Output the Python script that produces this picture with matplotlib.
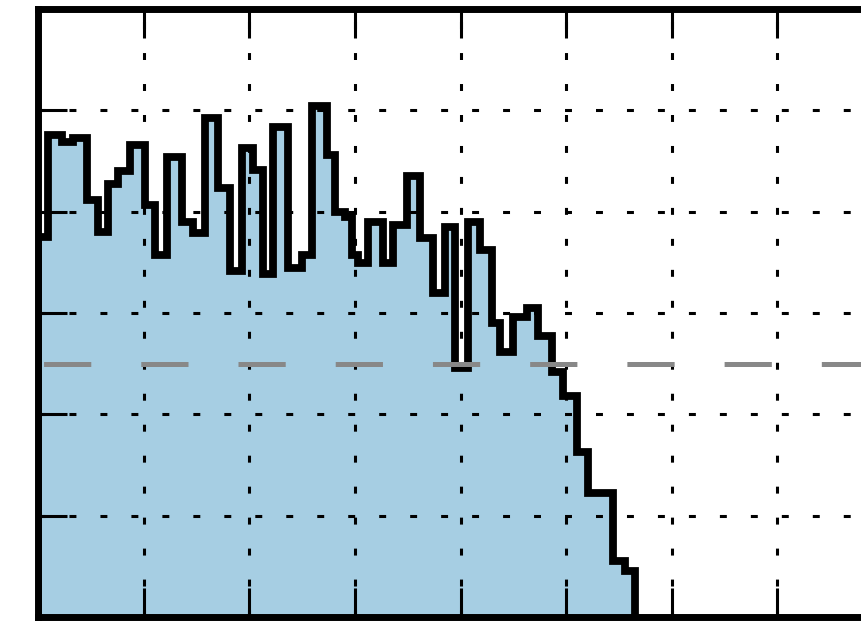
import matplotlib
matplotlib.use("Agg")
import matplotlib.pyplot as plt
import numpy as np

plt.rcParams['lines.scale_dashes'] = False

# step histogram (bin edges and heights, data units)
bin_edges = [0.000, 0.095, 0.222, 0.332, 0.459, 0.568, 0.663, 0.758, 0.869, 1.011,
             1.106, 1.216, 1.359, 1.468, 1.579, 1.705, 1.816, 1.927, 2.037, 2.132,
             2.226, 2.369, 2.495, 2.590, 2.732, 2.811, 2.906, 2.969, 3.032, 3.126,
             3.269, 3.363, 3.490, 3.616, 3.742, 3.853, 3.948, 4.074, 4.185, 4.296,
             4.375, 4.500, 4.627, 4.737, 4.864, 4.974, 5.101, 5.211, 5.448, 5.559,
             5.653]
heights = [3.75, 4.76, 4.69, 4.73, 4.12, 3.80, 4.27, 4.40, 4.66, 4.07,
           3.57, 4.54, 3.90, 3.79, 4.92, 4.23, 3.41, 4.63, 4.41, 3.38,
           4.84, 3.44, 3.57, 5.04, 4.56, 4.00, 3.95, 3.57, 3.49, 3.90,
           3.49, 3.87, 4.35, 3.74, 3.20, 3.85, 2.46, 3.90, 3.62, 2.90,
           2.62, 2.96, 3.05, 2.77, 2.42, 2.18, 1.63, 1.22, 0.55, 0.45]
ref_level = 2.5

x_ticks = np.arange(0, 11, 1)
y_ticks = np.arange(0, 7, 1)

fig = plt.figure(figsize=(8.61, 6.25), dpi=100)
# axes runs past the right edge of the picture, like the cropped original
ax = fig.add_axes([38.3 / 861, 8 / 625, 1055.5 / 861, 608 / 625])

ax.stairs(heights, bin_edges, baseline=0, fill=True, color="#a6cee3", lw=0, zorder=1)
ax.stairs(heights, bin_edges, baseline=0, fill=False, color="black", lw=5.6, zorder=3)

ax.axhline(ref_level, color="#888888", lw=3.6,
           linestyle=(66, (34, 36)), zorder=4)

ax.set_xlim(0, 10)
ax.set_ylim(0, 6)
ax.set_xticks(x_ticks)
ax.set_yticks(y_ticks)
ax.set_xticklabels([])
ax.set_yticklabels([])
ax.tick_params(direction="in", length=21, width=2.2, color="black",
               top=True, right=True, left=True, bottom=True)

ax.set_axisbelow(False)
ax.grid(True, color="black", lw=2.2, linestyle=(0, (5, 17.3)))

for sp in ax.spines.values():
    sp.set_linewidth(5)
    sp.set_zorder(5)

fig.savefig("out.png", dpi=100)
